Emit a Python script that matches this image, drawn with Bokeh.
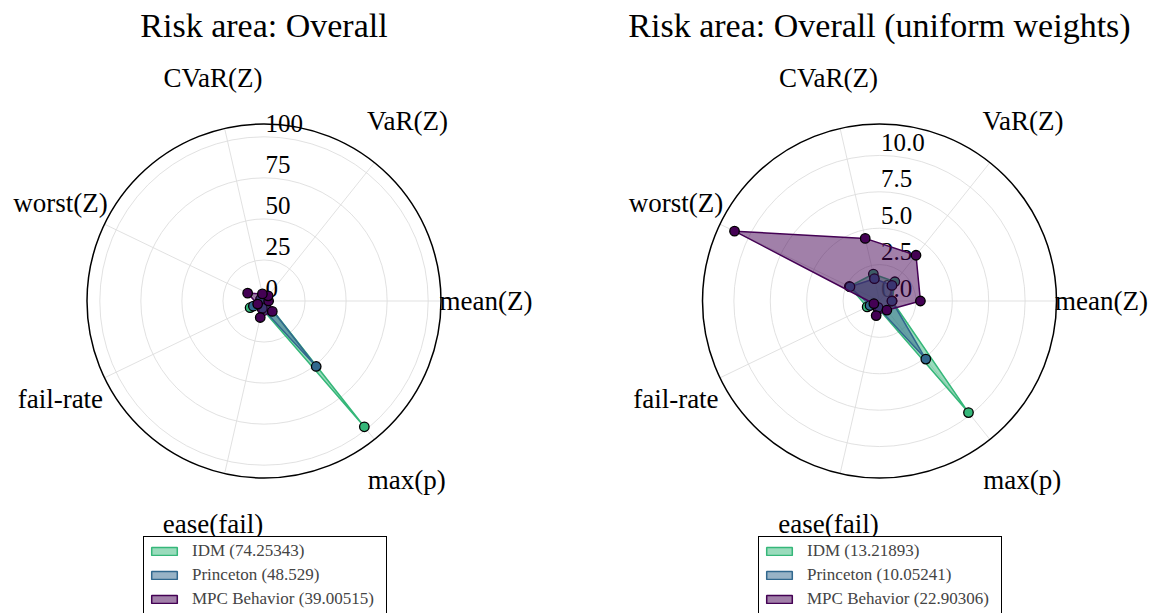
import numpy as np
from bokeh.plotting import figure
from bokeh.layouts import row
from bokeh.models import Legend, LegendItem, Range1d
from bokeh.core.properties import value
from bokeh.embed import file_html
from bokeh.resources import INLINE

# ---------------- data ----------------
metrics = ["mean(Z)", "VaR(Z)", "CVaR(Z)", "worst(Z)", "fail-rate", "ease(fail)", "max(p)"]
series_names = ["IDM", "Princeton", "MPC Behavior"]

# Risk area: Overall (weighted)
idm_weighted = [0.87, 1.69, 1.90, 2.30, 9.4, 5.0, 98.0]
princeton_weighted = [0.85, 1.37, 1.57, 2.25, 7.2, 4.5, 51.0]
mpc_weighted = [2.81, 4.02, 4.41, 11.05, 4.3, 10.3, 8.1]
scores_weighted = [74.25343, 48.529, 39.00515]
ticks_weighted = [0, 25, 50, 75, 100]
tick_labels_weighted = ["0", "25", "50", "75", "100"]

# Risk area: Overall (uniform weights)
idm_uniform = [0.87, 1.69, 1.90, 2.30, 0.94, 0.50, 9.80]
princeton_uniform = [0.85, 1.37, 1.57, 2.25, 0.72, 0.45, 5.10]
mpc_uniform = [2.81, 4.02, 4.41, 11.05, 0.43, 1.03, 0.81]
scores_uniform = [13.21893, 10.05241, 22.90306]
ticks_uniform = [0, 2.5, 5.0, 7.5, 10.0]
tick_labels_uniform = ["0.0", "2.5", "5.0", "7.5", "10.0"]

colors = ["#35b779", "#31688e", "#440154"]

FONT_NAME = "Liberation Serif"
FONT = value(FONT_NAME)
H = 613
CY_TOP = 300.5      # centre, px from top of figure
R_PX = 177          # outer circle radius in px
GRID = "#dedede"
LABEL_R_PX = [222, 230, 229, 226, 226, 229, 229]   # metric label distance from centre


def radar(title, data, scores, ticks, tick_labels, width, cx_px, legend_x):
    n = len(metrics)
    angles = np.arange(n) * 2 * np.pi / n
    rmax = 1.1 * max(max(s) for s in data)
    k = R_PX / rmax  # px per data unit
    p = figure(width=width, height=H,
               x_range=Range1d(-cx_px / k, (width - cx_px) / k),
               y_range=Range1d(-(H - CY_TOP) / k, CY_TOP / k),
               output_backend="svg", toolbar_location=None, tools="",
               min_border=0, x_axis_type=None, y_axis_type=None)
    p.grid.visible = False
    p.outline_line_color = None

    # spokes and rings
    p.segment(x0=[0] * n, y0=[0] * n, x1=list(rmax * np.cos(angles)), y1=list(rmax * np.sin(angles)),
              line_color=GRID, line_width=0.9)
    p.circle(x=[0] * (len(ticks) - 1), y=[0] * (len(ticks) - 1), radius=ticks[1:],
             fill_color=None, line_color=GRID, line_width=0.9)
    p.circle(x=[0], y=[0], radius=[rmax], fill_color=None, line_color="black", line_width=1.5)

    # radial tick labels
    p.text(x=[0] * len(ticks), y=ticks, text=tick_labels, text_font=FONT,
           text_font_size="25px", text_align="left", text_baseline="middle",
           x_offset=1.5, y_offset=-13, text_color="black")

    # metric labels
    lab_r = np.array(LABEL_R_PX) / k
    p.text(x=list(lab_r * np.cos(angles)), y=list(lab_r * np.sin(angles)), text=metrics,
           text_font=FONT, text_font_size="27px", text_align="center",
           text_baseline="middle", text_color="black")

    # title
    p.text(x=[0], y=[275.5 / k], text=[title], text_font=FONT, text_font_size="34px",
           text_align="center", text_baseline="middle", text_color="black")

    items = []
    for name, vals, score, color in zip(series_names, data, scores, colors):
        v = np.array(vals)
        xs = list(v * np.cos(angles))
        ys = list(v * np.sin(angles))
        pr = p.patch(xs, ys, fill_color=color, fill_alpha=0.5, line_color=color, line_width=1.5)
        p.scatter(xs, ys, size=9.5, fill_color=color, line_color="black", line_width=1.3)
        items.append(LegendItem(label=f"{name} ({score})", renderers=[pr]))

    legend = Legend(items=items, location=(legend_x, -0.7), margin=0, padding=4,
                    spacing=4, label_height=19, label_width=190, glyph_height=10, glyph_width=32,
                    label_standoff=12, label_text_font=FONT_NAME, label_text_font_size="17px",
                    border_line_color="black", border_line_width=1.5, border_line_alpha=1.0,
                    background_fill_color="white", background_fill_alpha=1.0)
    p.add_layout(legend)
    return p


p1 = radar("Risk area: Overall",
           [idm_weighted, princeton_weighted, mpc_weighted], scores_weighted,
           ticks_weighted, tick_labels_weighted, 581, 263.5, 143)
p2 = radar("Risk area: Overall (uniform weights)",
           [idm_uniform, princeton_uniform, mpc_uniform], scores_uniform,
           ticks_uniform, tick_labels_uniform, 581, 298, 177)

layout = row(p1, p2)
open("out.html", "w").write(file_html(layout, INLINE))
